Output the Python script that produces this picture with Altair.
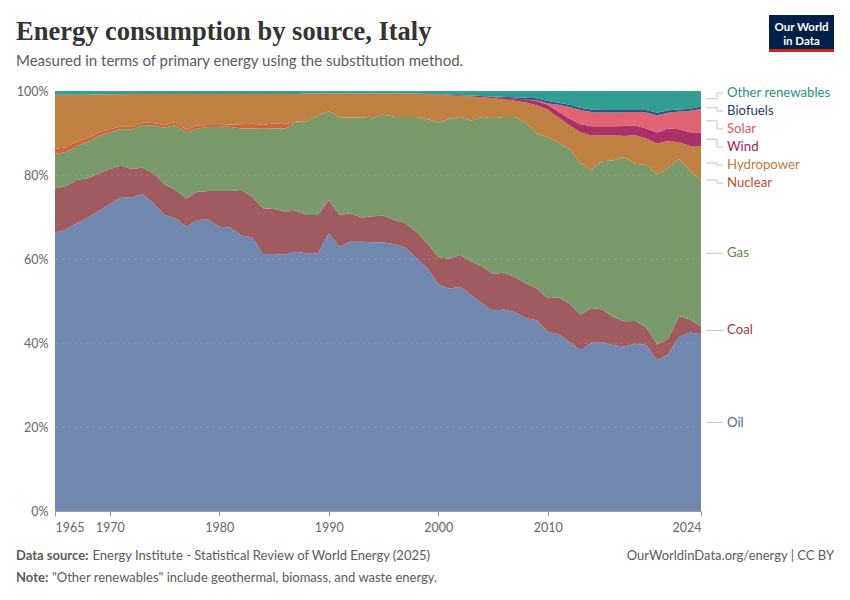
import altair as alt
import pandas as pd

# ---- data: share of primary energy (%) by source, Italy ----
years = list(range(1965, 2025))

sources = ["Oil", "Coal", "Gas", "Nuclear", "Hydropower",
           "Wind", "Solar", "Biofuels", "Other renewables"]

oil = [66.3, 67.1, 68.5, 69.8, 71.4, 73.1, 74.6, 74.7, 75.4, 73.3,
       70.5, 69.7, 67.7, 69.3, 69.4, 67.7, 67.5, 65.6, 65.2, 61.2,
       61.2, 61.0, 61.7, 61.3, 61.3, 66.1, 62.9, 64.1, 64.1, 64.0,
       63.9, 63.5, 62.7, 60.2, 57.8, 54.0, 52.9, 53.4, 51.4, 49.4,
       47.7, 48.0, 47.3, 46.0, 45.3, 42.7, 42.1, 40.3, 38.3, 40.1,
       40.1, 39.4, 39.1, 39.8, 39.5, 36.0, 37.3, 41.5, 42.5, 42.1]

coal = [10.5, 10.3, 10.3, 9.4, 9.0, 8.3, 7.6, 6.7, 6.3, 7.1,
        7.3, 6.7, 6.7, 6.7, 6.8, 8.5, 8.7, 10.8, 9.6, 10.9,
        10.7, 10.3, 9.8, 9.2, 9.2, 7.9, 7.6, 6.8, 5.8, 6.2,
        6.4, 5.8, 5.8, 6.3, 5.9, 6.5, 7.1, 7.6, 8.0, 8.8,
        8.7, 8.7, 8.5, 8.2, 7.5, 7.9, 8.9, 9.1, 8.5, 8.3,
        7.8, 6.7, 6.0, 5.4, 4.2, 3.7, 3.7, 4.9, 3.1, 1.8]

gas = [8.2, 8.1, 8.1, 8.7, 8.9, 8.8, 8.7, 9.5, 10.2, 11.4,
       13.5, 15.5, 15.8, 15.1, 15.2, 15.3, 15.3, 14.7, 16.3, 18.9,
       19.2, 19.8, 21.0, 22.3, 23.6, 21.2, 23.2, 22.8, 23.8, 23.3,
       24.1, 24.5, 25.3, 27.3, 29.6, 32.0, 33.3, 32.8, 33.5, 35.6,
       37.1, 37.1, 38.0, 38.3, 36.9, 38.3, 36.8, 36.9, 36.0, 33.0,
       35.3, 37.3, 39.0, 37.4, 38.7, 40.7, 40.7, 37.4, 35.4, 34.9]

nuclear = [1.2, 1.1, 1.0, 0.9, 0.8, 0.7, 0.6, 0.6, 0.6, 0.6,
           0.6, 0.7, 0.6, 0.7, 0.5, 0.4, 0.5, 1.0, 1.1, 0.9,
           1.2, 1.0, 0.2, 0.0, 0.0, 0.0, 0.0, 0.0, 0.0, 0.0,
           0.0, 0.0, 0.0, 0.0, 0.0, 0.0, 0.0, 0.0, 0.0, 0.0,
           0.0, 0.0, 0.0, 0.0, 0.0, 0.0, 0.0, 0.0, 0.0, 0.0,
           0.0, 0.0, 0.0, 0.0, 0.0, 0.0, 0.0, 0.0, 0.0, 0.0]

hydropower = [12.9, 12.5, 11.2, 10.3, 9.1, 8.3, 7.7, 7.8, 6.8, 6.9,
              7.4, 6.7, 8.5, 7.5, 7.4, 7.4, 7.3, 7.2, 7.1, 7.4,
              7.0, 7.2, 6.6, 6.6, 5.3, 4.2, 5.7, 5.7, 5.7, 5.9,
              5.0, 5.6, 5.6, 5.6, 5.9, 6.6, 5.6, 5.0, 5.8, 4.7,
              4.8, 4.2, 3.9, 4.8, 6.6, 6.6, 6.1, 5.6, 7.4, 8.1,
              6.2, 6.0, 5.0, 6.8, 6.3, 7.3, 6.4, 4.0, 5.9, 8.1]

wind = [0.0] * 30 + [
    0.0, 0.0, 0.0, 0.02, 0.05, 0.1, 0.15, 0.2, 0.2, 0.3,
    0.3, 0.4, 0.5, 0.7, 1.0, 1.1, 1.3, 1.6, 1.9, 2.2,
    2.1, 2.1, 2.4, 2.3, 2.4, 2.6, 3.0, 3.1, 3.3, 3.2]

solar = [0.0] * 43 + [
    0.05, 0.2, 0.4, 1.7, 2.8, 3.4, 3.4,
    3.3, 3.3, 3.3, 3.2, 3.8, 4.1, 3.7, 4.2, 5.1, 5.6]

biofuels = [0.0] * 40 + [
    0.1, 0.2, 0.3, 0.4, 0.5, 0.5, 0.5, 0.5, 0.5, 0.6,
    0.6, 0.6, 0.5, 0.5, 0.6, 0.6, 0.6, 0.5, 0.5, 0.6]

other_renewables = [0.9, 0.9, 0.9, 0.9, 0.8, 0.8, 0.8, 0.7, 0.7, 0.7,
                    0.7, 0.7, 0.7, 0.7, 0.7, 0.7, 0.7, 0.7, 0.7, 0.7,
                    0.7, 0.7, 0.7, 0.6, 0.6, 0.6, 0.6, 0.6, 0.6, 0.6,
                    0.6, 0.6, 0.6, 0.6, 0.7, 0.8, 0.9, 1.0, 1.1, 1.2,
                    1.3, 1.4, 1.5, 1.6, 1.7, 2.4, 2.8, 3.3, 4.0, 4.4,
                    4.5, 4.5, 4.5, 4.5, 4.5, 5.2, 4.6, 4.4, 4.2, 3.7]

series = {
    "Oil": oil, "Coal": coal, "Gas": gas, "Nuclear": nuclear,
    "Hydropower": hydropower, "Wind": wind, "Solar": solar,
    "Biofuels": biofuels, "Other renewables": other_renewables,
}

x_ticks = [1965, 1970, 1980, 1990, 2000, 2010, 2024]
y_ticks = [0, 0.2, 0.4, 0.6, 0.8, 1.0]

# ---- styling ----
area_colors = ["#7087B0", "#A05B61", "#7A9A6B", "#D0643A", "#C08142",
               "#AA3068", "#E06474", "#2D5482", "#329D93"]
label_colors = ["#4C6A9C", "#9E3A44", "#5B8A4B", "#C2501E", "#BE7A35",
                "#A3195F", "#E0566E", "#1D3D66", "#2A9186"]

W, H = 646, 420
FONT = "Lato"
GREY = "#5b5b5b"

rows = []
for i, src in enumerate(sources):
    for yr, v in zip(years, series[src]):
        rows.append({"year": yr, "source": src, "share": v, "order": i})
df = pd.DataFrame(rows)

# one shared y axis definition so every layer merges into the same axis
y_axis = alt.Axis(values=y_ticks, format=".0%", title=None,
                  labelFont=FONT, labelFontSize=12.5, labelColor="#666",
                  domain=False, ticks=False, grid=False, labelPadding=7)
y_scale = alt.Scale(domain=[0, 1], nice=False)

area = alt.Chart(df).mark_area(interpolate="linear").encode(
    x=alt.X("year:Q",
            scale=alt.Scale(domain=[1965, 2024], nice=False, zero=False),
            axis=alt.Axis(values=x_ticks, format="d", title=None,
                          labelFlush=True, labelFont=FONT, labelFontSize=12.5,
                          labelColor="#666", labelPadding=5,
                          domainColor="#999", tickColor="#999", tickSize=5,
                          grid=False)),
    y=alt.Y("share:Q", stack="normalize", scale=y_scale, axis=y_axis),
    color=alt.Color("source:N", scale=alt.Scale(domain=sources, range=area_colors),
                    legend=None),
    order=alt.Order("order:Q", sort="ascending"),
)

grid = alt.Chart(pd.DataFrame({"v": y_ticks[1:]})).mark_rule(
    color="#c8c8c8", strokeDash=[3, 3], strokeWidth=1, opacity=0.22
).encode(y=alt.Y("v:Q", scale=y_scale, axis=y_axis))

# ---- right-hand labels placed at the 2024 band centres ----
last = [series[s][-1] for s in sources]
total = sum(last)
centers = []
acc = 0.0
for s, v in zip(sources, last):
    centers.append((s, (acc + v / 2) / total))
    acc += v


def spread_labels(cs, gap, top):
    groups = [[i] for i in range(len(cs))]

    def positions(g):
        m = sum(cs[i][1] for i in g) / len(g)
        start = m - gap * (len(g) - 1) / 2
        return [start + gap * j for j in range(len(g))]

    changed = True
    while changed:
        changed = False
        for a in range(len(groups) - 1):
            pa, pb = positions(groups[a]), positions(groups[a + 1])
            if pb[0] - pa[-1] < gap - 1e-9:
                groups[a] = groups[a] + groups[a + 1]
                del groups[a + 1]
                changed = True
                break
    pos = {}
    for g in groups:
        for i, p in zip(g, positions(g)):
            pos[i] = p
    limit = top
    for i in sorted(pos, key=lambda k: -pos[k]):
        if pos[i] > limit:
            pos[i] = limit
        limit = pos[i] - gap
    return pos


placed = spread_labels(centers, gap=18 / H, top=1 - 2 / H)
lab = pd.DataFrame({
    "name": [c[0] for c in centers],
    "center": [c[1] for c in centers],
    "label": [placed[i] for i in range(len(centers))],
    "color": label_colors,
})

lead_color = "#c4c4c4"
lead1 = alt.Chart(lab).mark_rule(color=lead_color, strokeWidth=1).encode(
    y=alt.Y("center:Q", scale=y_scale, axis=y_axis),
    x=alt.value(W + 5), x2=alt.value(W + 16))
lead2 = alt.Chart(lab).mark_rule(color=lead_color, strokeWidth=1).encode(
    y=alt.Y("center:Q", scale=y_scale, axis=y_axis), y2="label:Q",
    x=alt.value(W + 16))
lead3 = alt.Chart(lab).mark_rule(color=lead_color, strokeWidth=1).encode(
    y=alt.Y("label:Q", scale=y_scale, axis=y_axis),
    x=alt.value(W + 16), x2=alt.value(W + 22))
labels = alt.Chart(lab).mark_text(
    align="left", baseline="middle", font=FONT, fontSize=13.2
).encode(
    y=alt.Y("label:Q", scale=y_scale, axis=y_axis), x=alt.value(W + 26),
    text="name:N", color=alt.Color("color:N", scale=None),
)


def text_layer(txt, x, y, size, color=GREY, font=FONT, weight="normal",
               align="left", baseline="alphabetic"):
    return alt.Chart(pd.DataFrame({"t": [txt]})).mark_text(
        font=font, fontSize=size, fontWeight=weight, color=color,
        align=align, baseline=baseline,
    ).encode(text="t:N", x=alt.value(x), y=alt.value(y))


OX, OY = 55, 91  # plot origin on the page
title = text_layer("Energy consumption by source, Italy", 16 - OX, 40 - OY, 26.5,
                   color="#333", font="Liberation Serif", weight="bold")
subtitle = text_layer("Measured in terms of primary energy using the substitution method.",
                      16 - OX, 66 - OY, 15)
src_bold = text_layer("Data source:", 16 - OX, 560 - OY, 13, weight="bold")
src_text = text_layer("Energy Institute - Statistical Review of World Energy (2025)",
                      92.5 - OX, 560 - OY, 13)
note_bold = text_layer("Note:", 16 - OX, 582 - OY, 13, weight="bold")
note_text = text_layer("\"Other renewables\" include geothermal, biomass, and waste energy.",
                       52 - OX, 582 - OY, 13)
credit = text_layer("OurWorldinData.org/energy | CC BY", 834 - OX, 560 - OY, 13,
                    align="right")

logo_box = alt.Chart(pd.DataFrame({"a": [0]})).mark_rect(color="#002147").encode(
    x=alt.value(769 - OX), x2=alt.value(834 - OX),
    y=alt.value(15 - OY), y2=alt.value(49 - OY))
logo_bar = alt.Chart(pd.DataFrame({"a": [0]})).mark_rect(color="#CE261E").encode(
    x=alt.value(769 - OX), x2=alt.value(834 - OX),
    y=alt.value(49 - OY), y2=alt.value(52 - OY))
logo1 = text_layer("Our World", 801.5 - OX, 31 - OY, 11.5, color="white",
                   weight="bold", align="center")
logo2 = text_layer("in Data", 801.5 - OX, 45 - OY, 11.5, color="white",
                   weight="bold", align="center")

chart = alt.layer(
    area, grid, lead1, lead2, lead3, labels,
    title, subtitle, src_bold, src_text, note_bold, note_text, credit,
    logo_box, logo_bar, logo1, logo2,
).properties(
    width=W, height=H,
    padding={"left": OX, "top": OY, "right": 850 - OX - W, "bottom": 600 - OY - H},
    autosize=alt.AutoSizeParams(type="none"),
    background="white",
).configure_view(stroke=None)

chart.save("out.html", embed_options={"renderer": "svg", "actions": False})
